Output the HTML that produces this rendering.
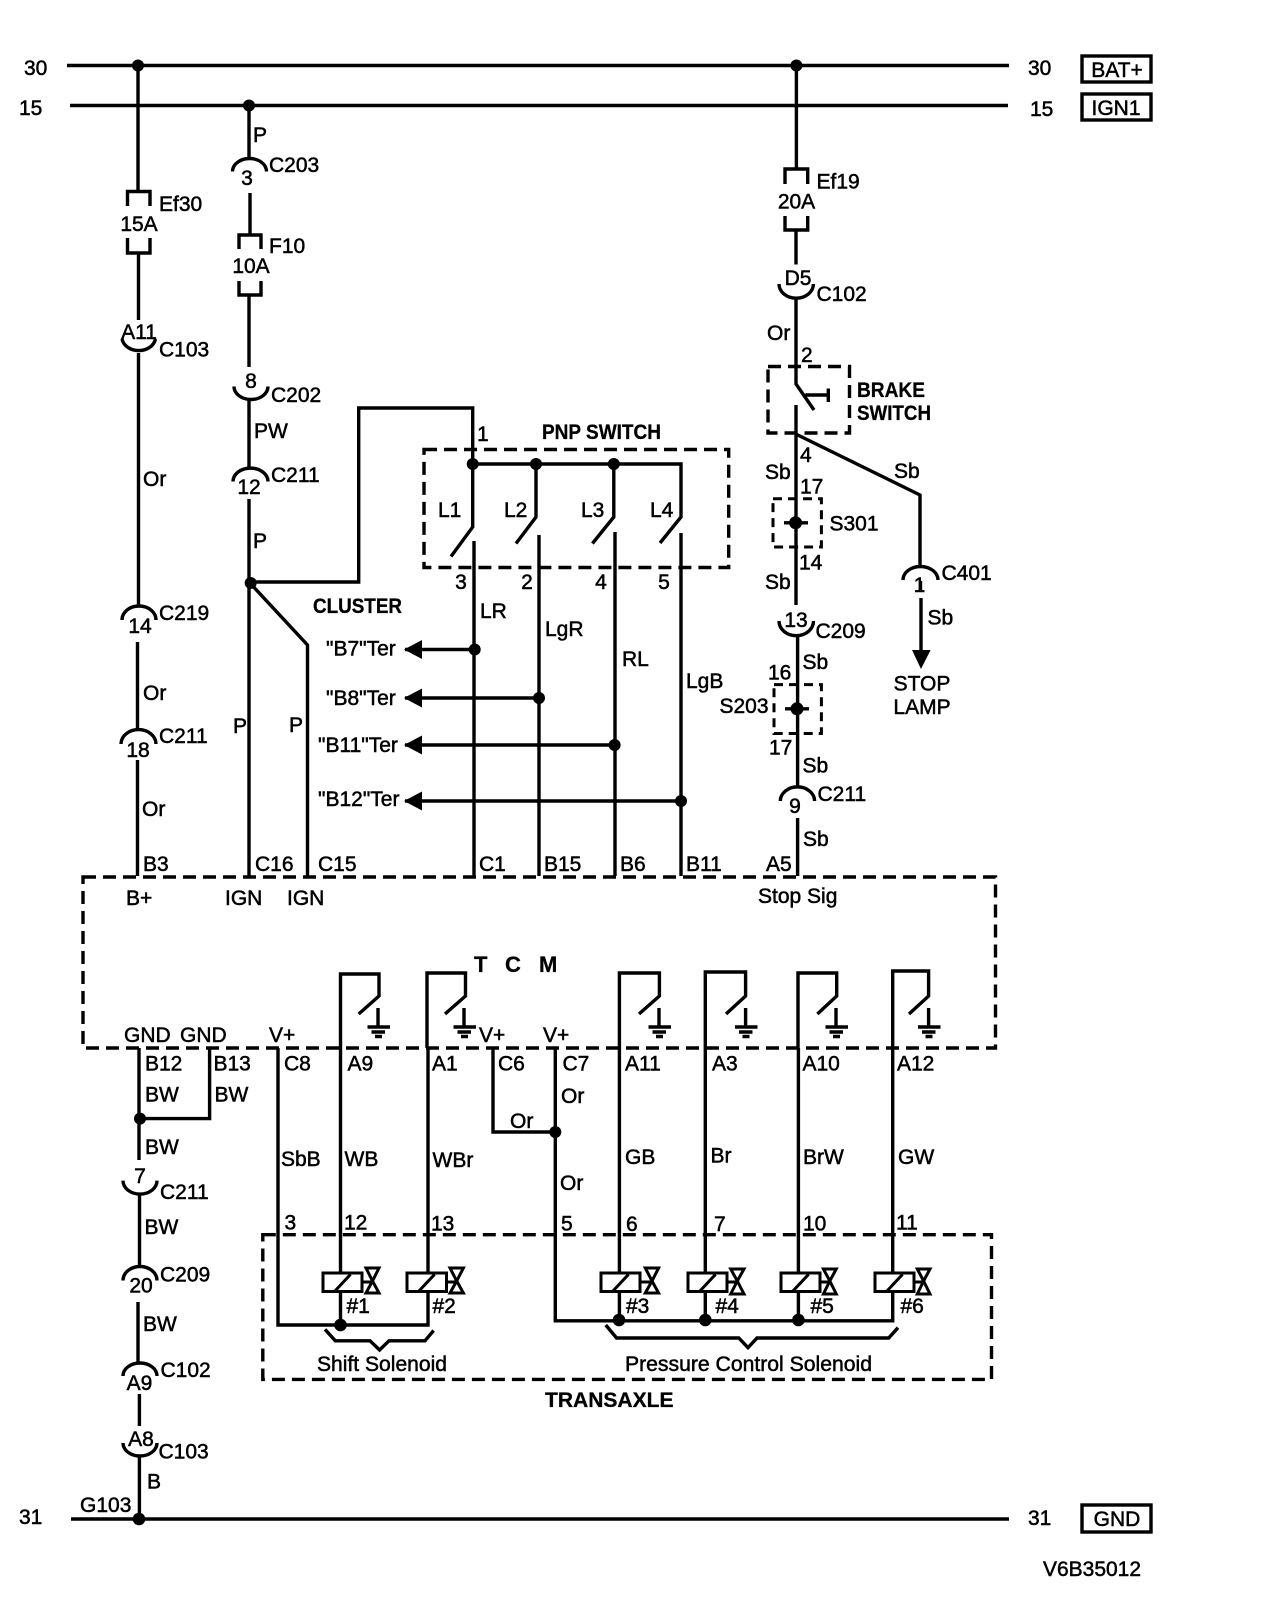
<!DOCTYPE html>
<html><head><meta charset="utf-8"><title>TCM wiring diagram</title>
<style>
html,body{margin:0;padding:0;background:#fff}
svg{display:block}
text{font-family:"Liberation Sans",sans-serif;font-size:21px;fill:#000;stroke:#000;stroke-width:.5;dominant-baseline:central}
.b{font-weight:bold;stroke-width:.3}
.m{text-anchor:middle}
.l path,.l line,.l polyline{fill:none;stroke:#000;stroke-width:3.4;stroke-linejoin:miter}
.d rect,.d path{fill:none;stroke:#000;stroke-width:3.4;stroke-dasharray:13 7}
.s rect,.s path,.s polygon{fill:#fff;stroke:#000;stroke-width:3}
circle{fill:#000}
</style></head><body>
<svg width="1264" height="1618" viewBox="0 0 1264 1618" xmlns="http://www.w3.org/2000/svg">
<rect width="1264" height="1618" fill="#fff"/>

<g class="l">
<!-- buses -->
<path d="M67 65.5H1009M70 105.5H1008M71 1519H1009"/>
<!-- left supply -->
<path d="M138 65V191"/>
<path d="M127.500 206V191.500H150V206M127.500 238V253H150V238"/>
<path d="M138.500 253V320M138.500 353V606M137.500 642V730M137.500 760V876"/>
<path d="M122 339A17 14 0 0 0 155.500 339"/>
<path d="M122 620A17 14 0 0 1 156 620"/>
<path d="M121 744A17 14 0 0 1 156 744"/>
<!-- ign feed -->
<path d="M249 105V158M250 193V234M249 296V367M249 400V468M249 499V876"/>
<path d="M232.500 171.500A17 13 0 0 1 266.500 171.500"/>
<path d="M239 249V235H261V249M239 281V295H261V281"/>
<path d="M234 386.500A17 13 0 0 0 268 386.500"/>
<path d="M233 481.500A17 13 0 0 1 268 481.500"/>
<path d="M250 582H358.700V408H472.700V527L451 556.500"/>
<path d="M250 583L307.500 645V876"/>
<!-- PNP switch -->
<path d="M472.700 464H681V517L660 543"/>
<path d="M536 464V517L516 543.500"/>
<path d="M613.800 464V517L592.400 543.500"/>
<path d="M474 541V876M539 535V876M615 532V876M681 533V876"/>
<path d="M405 649.500H474M405 698H539M405 745H615M405 801H681"/>
<!-- right supply -->
<path d="M796.400 65V169"/>
<path d="M785 184V169H807.700V184M785 216V230H807.700V216"/>
<path d="M796 230V264.500M796 298V384L814 410M805.300 395H828.300M828.300 388.500V402M796 405V605"/>
<path d="M779 284A17 14 0 0 0 813.400 284"/>
<path d="M797 434.600L920 495V566"/>
<path d="M784 522.800H808"/>
<path d="M903 580A17.500 13.500 0 0 1 938 580"/>
<path d="M920.500 581V590M921 598V652"/>
<path d="M779 621A17 14.500 0 0 0 813.500 621"/>
<path d="M797.600 636V787M780.300 801A17 14 0 0 1 814.600 801M797.600 818V876"/>
<path d="M785 708.800H809"/>
<!-- TCM relays -->
<path d="M340.500 1048V974H379V996L358.700 1014"/>
<path d="M427 1048V973H465.500V996L445 1014"/>
<path d="M619.400 1048V973H659.400V996L639 1014"/>
<path d="M705.300 1048V972H745.600V996L726 1014"/>
<path d="M798 1048V973H836.700V996L817.400 1014"/>
<path d="M892.700 1048V971H928.600V996L909 1014"/>
<!-- grounds -->
<path d="M378 1008V1027M367.500 1027H390M371.500 1032H385M375 1036.500H382"/>
<path d="M464 1008V1027M453.500 1027H476M457.500 1032H471M461 1036.500H468"/>
<path d="M659 1008V1027M648.500 1027H671M652.500 1032H666M656 1036.500H663"/>
<path d="M745.600 1008V1027M735 1027H757.500M739 1032H752.500M742.500 1036.500H749.500"/>
<path d="M836 1008V1027M825.500 1027H848M829.500 1032H843M833 1036.500H840"/>
<path d="M928.600 1008V1027M918 1027H940.500M922 1032H935.500M925.500 1036.500H932.500"/>
<!-- lower wires -->
<path d="M139 1048V1160M209.600 1048V1118.600H140"/>
<path d="M123 1180.600A17 13.500 0 0 0 157 1180.600"/>
<path d="M139.500 1194V1266"/>
<path d="M123 1280.500A17 14 0 0 1 157 1280.500"/>
<path d="M138 1302V1362"/>
<path d="M123 1376A17 13 0 0 1 157 1376"/>
<path d="M139.400 1394V1426"/>
<path d="M123 1443A17 13 0 0 0 157 1443"/>
<path d="M139.400 1456V1519"/>
<path d="M278 1048V1325H428V1048"/>
<path d="M340.500 1048V1325"/>
<path d="M493 1048V1132H555.300"/>
<path d="M555.300 1048V1320.800H892.700V1048"/>
<path d="M619.400 1048V1320M705.300 1048V1320M798.400 1048V1320"/>
<!-- braces -->
<path d="M325 1329.400L335.300 1340.800H370L379.600 1350L389 1340.800H425L433.600 1330.500"/>
<path d="M605.700 1325L616.600 1338H738.800L748 1347.700L757 1338H888.700L898 1327.700"/>
</g>

<!-- dashed enclosures -->
<g class="d">
<rect x="83" y="877" width="912.500" height="171"/>
<rect x="424" y="449.500" width="304.700" height="118"/>
<rect x="768" y="366.500" width="81.500" height="66.500"/>
<rect x="773" y="498.700" width="48.400" height="48.300" style="stroke-width:3;stroke-dasharray:9 6"/>
<rect x="774" y="684.600" width="47.400" height="48.900" style="stroke-width:3;stroke-dasharray:9 6"/>
<rect x="262.800" y="1234.700" width="728.700" height="144.700"/>
</g>

<!-- solenoids -->
<g class="s">
<rect x="323" y="1273" width="39" height="18.500"/><path d="M334.500 1291.500L350.600 1274.300M362 1282H372"/>
<polygon points="366,1268 379,1268 372.500,1281"/><polygon points="372.500,1281 366,1293 379,1293"/>
<rect x="407" y="1273" width="39.500" height="18.500"/><path d="M418.500 1291.500L434.600 1274.300M446.500 1282H456"/>
<polygon points="450,1268 463.400,1268 456.700,1281"/><polygon points="456.700,1281 450,1293 463.400,1293"/>
<rect x="601" y="1273" width="39" height="18.500"/><path d="M612.500 1291.500L628.600 1274.300M640 1282H652"/>
<polygon points="645.300,1268 658.600,1268 652,1281"/><polygon points="652,1281 645.300,1293 658.600,1293"/>
<rect x="688" y="1273" width="39" height="18.500"/><path d="M699.500 1291.500L715.600 1274.300M727 1282H737"/>
<polygon points="730.700,1269 744,1269 737.300,1281"/><polygon points="737.300,1281 730.700,1294 744,1294"/>
<rect x="781" y="1273" width="39" height="18.500"/><path d="M792.500 1291.500L808.600 1274.300M820 1282H830"/>
<polygon points="823.400,1269 836.300,1269 829.800,1281"/><polygon points="829.800,1281 823.400,1294 836.300,1294"/>
<rect x="875" y="1273" width="39" height="18.500"/><path d="M886.500 1291.500L902.600 1274.300M914 1282H924"/>
<polygon points="917.300,1269 930,1269 923.600,1281"/><polygon points="923.600,1281 917.300,1294 930,1294"/>
</g>

<!-- dots -->
<circle cx="138" cy="65.500" r="6"/><circle cx="249" cy="105.500" r="6"/><circle cx="796.400" cy="65.500" r="6"/>
<circle cx="250.700" cy="583" r="6"/>
<circle cx="472.700" cy="464" r="6"/><circle cx="536" cy="464" r="6"/><circle cx="613.800" cy="464" r="6"/>
<circle cx="474.700" cy="649.500" r="6"/><circle cx="539" cy="698" r="6"/><circle cx="614.600" cy="745" r="6"/><circle cx="681" cy="801" r="6"/>
<circle cx="795.600" cy="522.800" r="6.500"/><circle cx="797" cy="708.800" r="6.500"/>
<circle cx="140" cy="1118.600" r="6"/><circle cx="555.300" cy="1132" r="6"/>
<circle cx="340.500" cy="1325" r="6.300"/><circle cx="619" cy="1320" r="6.300"/><circle cx="705.300" cy="1320" r="6.300"/><circle cx="798.400" cy="1320" r="6.300"/>
<circle cx="139" cy="1519" r="6.300"/>

<!-- arrows -->
<polygon points="404,649.500 422,640 422,659"/><polygon points="404,698 422,688.500 422,707.500"/>
<polygon points="404,745 422,735.500 422,754.500"/><polygon points="404,801 422,791.500 422,810.500"/>
<polygon points="912,650 930.600,650 921,669"/>

<!-- boxes -->
<g fill="none" stroke="#000" stroke-width="3.400">
<rect x="1082" y="56" width="69" height="26"/>
<rect x="1082" y="94" width="69" height="26"/>
<rect x="1082" y="1505" width="69" height="27"/>
</g>

<!-- labels -->
<g transform="translate(0,0.5)">
<text x="24" y="68">30</text><text x="19" y="108">15</text><text x="19" y="1517">31</text>
<text x="1028" y="68">30</text><text x="1030" y="109">15</text><text x="1028" y="1518">31</text>
<text class="m" x="1117" y="70">BAT+</text><text class="m" x="1116" y="108">IGN1</text><text class="m" x="1117" y="1519">GND</text>
<text x="1043" y="1569" textLength="98" lengthAdjust="spacingAndGlyphs">V6B35012</text>

<text x="159" y="204">Ef30</text><text class="m" x="139" y="224">15A</text>
<text class="m" x="139" y="332">A11</text><text x="159" y="349.500">C103</text>
<text x="143" y="479">Or</text>
<text class="m" x="140" y="626">14</text><text x="159" y="613">C219</text>
<text x="143" y="693">Or</text>
<text class="m" x="138" y="750">18</text><text x="159" y="736">C211</text>
<text x="142" y="809">Or</text>
<text x="143" y="864">B3</text>

<text x="253" y="135">P</text><text class="m" x="247" y="178">3</text><text x="269" y="165">C203</text>
<text x="269" y="246">F10</text><text class="m" x="251" y="266">10A</text>
<text class="m" x="251" y="381">8</text><text x="271" y="395">C202</text>
<text x="254" y="431">PW</text>
<text class="m" x="249" y="487">12</text><text x="271" y="475">C211</text>
<text x="253" y="541">P</text>
<text x="233" y="726">P</text><text x="289" y="725">P</text>
<text x="255" y="864">C16</text><text x="318" y="864">C15</text>

<text x="477" y="434">1</text>
<text class="b" x="542" y="432" textLength="119" lengthAdjust="spacingAndGlyphs">PNP SWITCH</text>
<text x="438" y="510">L1</text><text x="504" y="510">L2</text><text x="581" y="510">L3</text><text x="650" y="510">L4</text>
<text class="m" x="461" y="582">3</text><text class="m" x="527" y="582">2</text><text class="m" x="601" y="582">4</text><text class="m" x="664" y="582">5</text>
<text x="480" y="611">LR</text><text x="545" y="629">LgR</text><text x="622" y="659">RL</text><text x="686" y="681">LgB</text>
<text class="b" x="313" y="606" textLength="89" lengthAdjust="spacingAndGlyphs">CLUSTER</text>
<text x="326" y="648.500">"B7"Ter</text><text x="326" y="698">"B8"Ter</text>
<text x="318" y="745">"B11"Ter</text><text x="318" y="799">"B12"Ter</text>
<text x="479" y="864">C1</text><text x="544" y="864">B15</text><text x="620" y="864">B6</text><text x="686" y="864">B11</text><text x="766" y="864">A5</text>

<text x="816.500" y="181.500">Ef19</text><text class="m" x="796.500" y="201.500">20A</text>
<text class="m" x="798" y="278">D5</text><text x="816.500" y="294">C102</text>
<text x="767" y="333">Or</text><text x="801" y="355">2</text>
<text class="b" x="857" y="390" textLength="68" lengthAdjust="spacingAndGlyphs">BRAKE</text><text class="b" x="857" y="413" textLength="74" lengthAdjust="spacingAndGlyphs">SWITCH</text>
<text x="800" y="455">4</text><text x="765" y="472">Sb</text><text x="894" y="471">Sb</text><text x="800" y="486.500">17</text>
<text x="829.500" y="523.500">S301</text>
<text x="799" y="562.500">14</text><text x="765" y="582">Sb</text>
<text x="941.500" y="573">C401</text><text class="m" x="919.500" y="585">1</text>
<text x="927.500" y="617.500">Sb</text>
<text class="m" x="796" y="620">13</text><text x="815.500" y="631">C209</text>
<text x="802.500" y="662">Sb</text><text x="768" y="672.500">16</text>
<text x="719.500" y="706">S203</text>
<text x="769" y="747.500">17</text><text x="802.500" y="765.500">Sb</text>
<text class="m" x="795" y="806">9</text><text x="817.500" y="794">C211</text>
<text x="803" y="839">Sb</text>
<text class="m" x="922" y="683.500">STOP</text><text class="m" x="922" y="707">LAMP</text>

<text x="126" y="898">B+</text><text x="225" y="898">IGN</text><text x="287" y="898">IGN</text>
<text x="758" y="896">Stop Sig</text>
<text class="b" x="474" y="964" style="font-size:22px">T</text><text class="b" x="505" y="964" style="font-size:22px">C</text><text class="b" x="539" y="964" style="font-size:22px">M</text>
<text x="124" y="1035">GND</text><text x="180" y="1035">GND</text>
<text x="269" y="1035">V+</text><text x="479" y="1035">V+</text><text x="543" y="1035">V+</text>
<text x="145" y="1063.500">B12</text><text x="213.500" y="1063.500">B13</text><text x="284" y="1063.500">C8</text><text x="347.500" y="1063.500">A9</text><text x="432" y="1063.500">A1</text>
<text x="498" y="1063.500">C6</text><text x="562.500" y="1063.500">C7</text><text x="625" y="1063.500">A11</text><text x="712" y="1063.500">A3</text><text x="802.500" y="1063.500">A10</text><text x="897" y="1063.500">A12</text>
<text x="145" y="1094.500">BW</text><text x="214.500" y="1094.500">BW</text><text x="145" y="1147">BW</text>
<text x="561" y="1096">Or</text><text x="510" y="1121">Or</text><text x="560" y="1183">Or</text>
<text x="281" y="1159">SbB</text><text x="344.500" y="1159">WB</text><text x="432.500" y="1160">WBr</text>
<text x="625" y="1157">GB</text><text x="710.500" y="1155.500">Br</text><text x="803" y="1157">BrW</text><text x="898" y="1157">GW</text>
<text class="m" x="140" y="1176">7</text><text x="160" y="1192">C211</text>
<text x="144.500" y="1227">BW</text>
<text class="m" x="141" y="1285.500">20</text><text x="160" y="1274.500">C209</text>
<text x="143" y="1324">BW</text>
<text class="m" x="139.500" y="1383">A9</text><text x="160.500" y="1370">C102</text>
<text class="m" x="141" y="1439">A8</text><text x="158.500" y="1451.500">C103</text>
<text x="147" y="1481.500">B</text><text x="80" y="1505">G103</text>
<text x="284.500" y="1222.500">3</text><text x="344" y="1222.500">12</text><text x="431" y="1223.500">13</text>
<text x="561" y="1223.500">5</text><text x="626" y="1224">6</text><text x="714" y="1224">7</text><text x="803" y="1223.500">10</text><text x="896" y="1222.500">11</text>
<text x="346.500" y="1306">#1</text><text x="432.500" y="1306">#2</text><text x="626" y="1306">#3</text><text x="715.500" y="1306">#4</text><text x="810.500" y="1306">#5</text><text x="900.500" y="1306">#6</text>
<text x="317" y="1364" textLength="130" lengthAdjust="spacingAndGlyphs">Shift Solenoid</text><text x="625" y="1364" textLength="247" lengthAdjust="spacingAndGlyphs">Pressure Control Solenoid</text>
<text class="b" x="545" y="1400" textLength="128.500" lengthAdjust="spacingAndGlyphs">TRANSAXLE</text>
</g>
</svg>
</body></html>
